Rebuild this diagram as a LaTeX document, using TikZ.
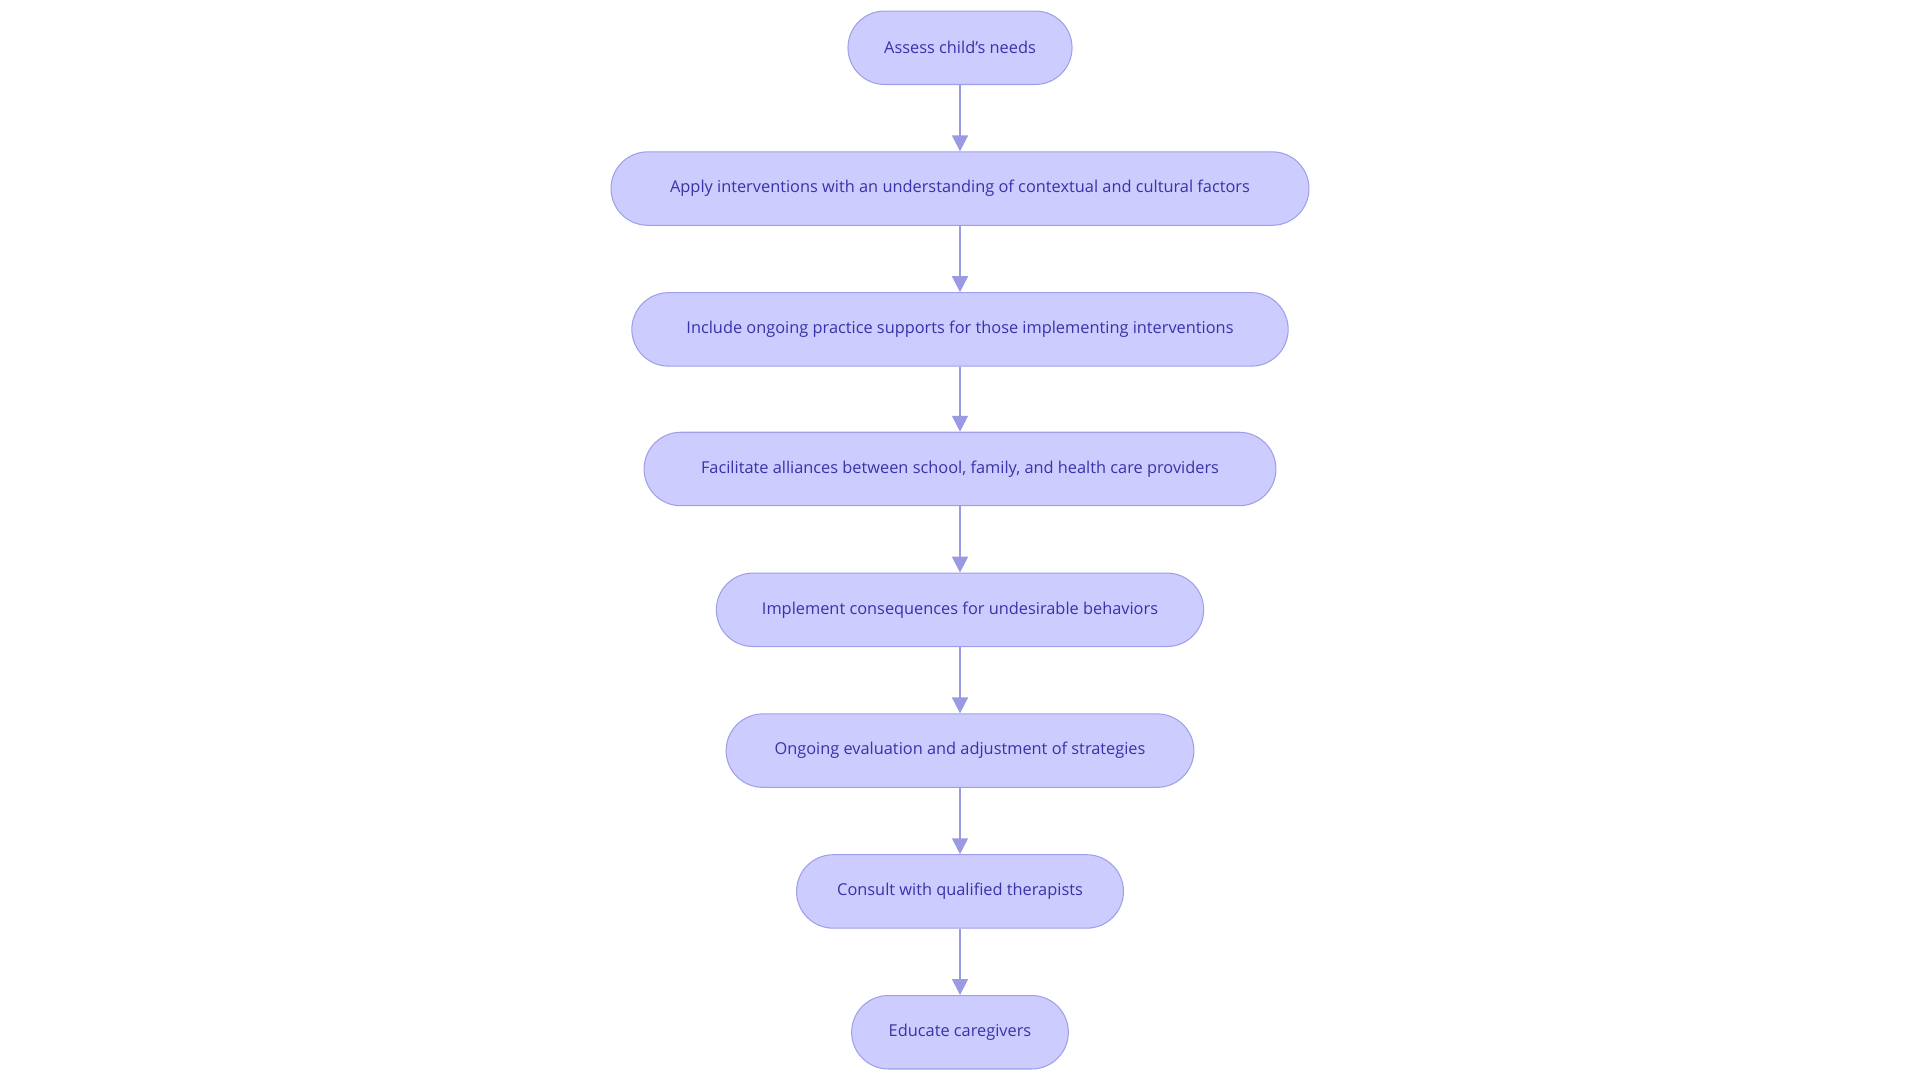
\documentclass[tikz,border=0pt]{standalone}
\usepackage{fontspec}
\setmainfont{Open Sans}
\usetikzlibrary{arrows.meta}
\definecolor{nfill}{HTML}{CCCCFF}
\definecolor{nborder}{HTML}{9F9FE8}
\definecolor{ntext}{HTML}{3A32A8}
\definecolor{arr}{HTML}{9A9AE2}
\tikzset{
  stepbox/.style={draw=nborder, fill=nfill, line width=1.2pt, rounded corners=1.5cm, minimum height=3cm, text=ntext, font=\fontsize{19}{22}\selectfont, inner sep=0pt},
  conn/.style={draw=arr, line width=2pt, -{Triangle[length=0.65cm,width=0.65cm]}}
}
\begin{document}
\begin{tikzpicture}[x=0.05cm,y=-0.05cm]
\useasboundingbox (0,0) rectangle (1568,882);
\node[stepbox, minimum width=183*0.05cm] (a) at (784,39) {Assess child's needs};
\node[stepbox, minimum width=570*0.05cm] (b) at (784,154) {Apply interventions with an understanding of contextual and cultural factors};
\node[stepbox, minimum width=536*0.05cm] (c) at (784,269) {Include ongoing practice supports for those implementing interventions};
\node[stepbox, minimum width=516*0.05cm] (d) at (784,383) {Facilitate alliances between school, family, and health care providers};
\node[stepbox, minimum width=398*0.05cm] (e) at (784,498) {Implement consequences for undesirable behaviors};
\node[stepbox, minimum width=382*0.05cm] (f) at (784,613) {Ongoing evaluation and adjustment of strategies};
\node[stepbox, minimum width=267*0.05cm] (g) at (784,728) {Consult with qualified therapists};
\node[stepbox, minimum width=177*0.05cm] (h) at (784,843) {Educate caregivers};
\foreach \s/\t in {a/b,b/c,c/d,d/e,e/f,f/g,g/h} \draw[conn] (\s) -- (\t);
\end{tikzpicture}
\end{document}
